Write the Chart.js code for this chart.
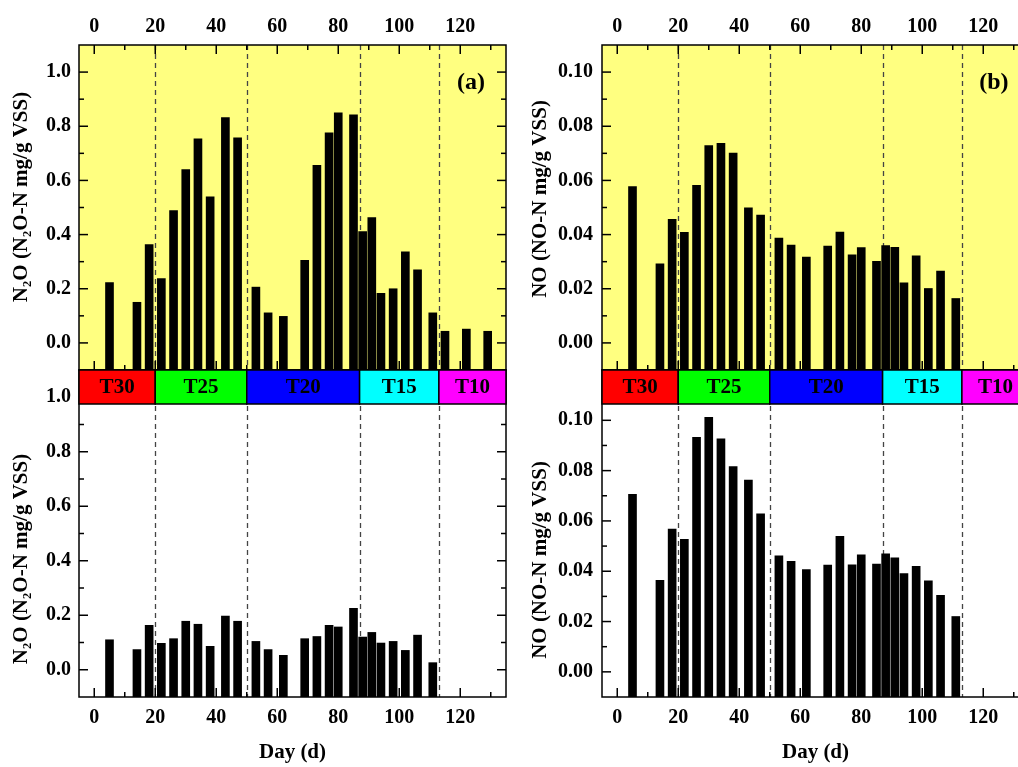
<!DOCTYPE html>
<html>
<head>
<meta charset="utf-8">
<script src="https://cdn.jsdelivr.net/npm/chart.js@4.4.0/dist/chart.umd.min.js"></script>
<style>
  html,body{margin:0;padding:0;background:#fff;}
  body{width:1018px;height:767px;overflow:hidden;position:relative;}
  canvas{position:absolute;}
</style>
</head>
<body>
<canvas id="tl" width="510" height="372" style="left:0;top:0"></canvas>
<canvas id="bl" width="510" height="399" style="left:0;top:368px"></canvas>
<canvas id="tr" width="521" height="372" style="left:510px;top:0"></canvas>
<canvas id="br" width="521" height="399" style="left:510px;top:368px"></canvas>
<script>
// ---------------- data ----------------
const days = [5,14,18,22,26,30,34,38,43,47,53,57,62,69,73,77,80,85,88,91,94,98,102,106,111,115,122,129];
const n2oTop = [0.223,0.150,0.363,0.238,0.489,0.640,0.754,0.539,0.832,0.757,0.206,0.111,0.098,0.305,0.656,0.776,0.850,0.842,0.411,0.463,0.183,0.200,0.336,0.270,0.111,0.043,0.051,0.043];
const n2oBottom = [0.110,0.074,0.163,0.097,0.114,0.178,0.167,0.086,0.197,0.178,0.104,0.074,0.053,0.114,0.122,0.163,0.157,0.225,0.120,0.137,0.098,0.104,0.071,0.127,0.026];
const noTop = [0.0577,0.0292,0.0456,0.0408,0.0582,0.0729,0.0737,0.0701,0.0499,0.0472,0.0387,0.0361,0.0317,0.0358,0.0409,0.0325,0.0352,0.0301,0.0359,0.0353,0.0222,0.0322,0.0201,0.0265,0.0164];
const noBottom = [0.0706,0.0364,0.0568,0.0527,0.0932,0.1012,0.0926,0.0816,0.0762,0.0628,0.0461,0.0439,0.0407,0.0424,0.0539,0.0425,0.0465,0.0428,0.0469,0.0453,0.0391,0.0419,0.0362,0.0304,0.0220];
const phases = ['T30','T25','T20','T15','T10'];
const phaseBounds = [-5,20,50,87,113,135];
const phaseColors = ['#ff0000','#00ff00','#0000ff','#00ffff','#ff00ff'];
const xTicks = [0,20,40,60,80,100,120];
const n2oTicks = [0,0.2,0.4,0.6,0.8,1.0];
const noTicks = [0,0.02,0.04,0.06,0.08,0.10];
const n2oTitle = 'N₂O (N₂O-N mg/g VSS)';
const noTitle = 'NO (NO-N mg/g VSS)';
const xTitle = 'Day (d)';

// ---------------- helpers ----------------
const FONT = "'Liberation Serif','Times New Roman','DejaVu Serif',serif";
Chart.defaults.font.family = FONT;
Chart.defaults.color = '#000';

const panelPlugin = {
  id: 'panel',
  beforeDatasetsDraw(chart, args, o) {
    const {ctx, chartArea: a} = chart;
    const x = chart.scales.x;
    ctx.save();
    if (o.yellow) {
      ctx.fillStyle = '#ffff80';
      ctx.fillRect(a.left, a.top, a.right - a.left, a.bottom - a.top);
    }
    ctx.strokeStyle = '#444';
    ctx.lineWidth = 1.3;
    ctx.setLineDash([5, 4]);
    phaseBounds.slice(1, -1).forEach(d => {
      const px = Math.round(x.getPixelForValue(d)) + 0.5;
      ctx.beginPath(); ctx.moveTo(px, a.top); ctx.lineTo(px, a.bottom); ctx.stroke();
    });
    ctx.restore();
  },
  afterDatasetsDraw(chart, args, o) {
    const {ctx, chartArea: a} = chart;
    const x = chart.scales.x, y = chart.scales.y;
    ctx.save();
    ctx.strokeStyle = '#000';
    ctx.lineWidth = 1.5;
    const seg = (x0, y0, x1, y1) => { ctx.beginPath(); ctx.moveTo(x0, y0); ctx.lineTo(x1, y1); ctx.stroke(); };
    const MAJ = 9, MIN = 5;
    const xStep = xTicks[1] - xTicks[0];
    xTicks.forEach(v => {
      const px = x.getPixelForValue(v);
      seg(px, a.top, px, a.top + MAJ); seg(px, a.bottom, px, a.bottom - MAJ);
      const m = v + xStep / 2;
      if (m < x.max) { const pm = x.getPixelForValue(m); seg(pm, a.top, pm, a.top + MIN); seg(pm, a.bottom, pm, a.bottom - MIN); }
    });
    const yt = o.yTicks, yStep = yt[1] - yt[0];
    yt.forEach((v, i) => {
      const py = y.getPixelForValue(v);
      seg(a.left, py, a.left + MAJ, py); seg(a.right, py, a.right - MAJ, py);
      [v - yStep / 2, v + yStep / 2].forEach((m, k) => {
        if (k === 0 && i > 0) return;
        if (m <= y.min + 1e-9 || m >= y.max - 1e-9) return;
        const pm = y.getPixelForValue(m);
        seg(a.left, pm, a.left + MIN, pm); seg(a.right, pm, a.right - MIN, pm);
      });
    });
    ctx.strokeRect(a.left, a.top, a.right - a.left, a.bottom - a.top);
    if (o.band) {
      const h = 34;
      ctx.font = 'bold 21px ' + FONT;
      ctx.textAlign = 'center';
      ctx.textBaseline = 'middle';
      phases.forEach((p, i) => {
        const x0 = x.getPixelForValue(phaseBounds[i]);
        const x1 = x.getPixelForValue(phaseBounds[i + 1]);
        ctx.fillStyle = phaseColors[i];
        ctx.fillRect(x0, a.top, x1 - x0, h);
        ctx.strokeRect(x0, a.top, x1 - x0, h);
        ctx.fillStyle = '#000';
        ctx.fillText(p, (x0 + x1) / 2, a.top + h / 2 + 1);
      });
    }
    if (o.letter) {
      ctx.font = 'bold 24px ' + FONT;
      ctx.fillStyle = '#000';
      ctx.textAlign = 'center';
      ctx.textBaseline = 'middle';
      ctx.fillText(o.letter, x.getPixelForValue(o.letterAt[0]), y.getPixelForValue(o.letterAt[1]));
    }
    ctx.translate(a.left - o.titleDX, o.titleCY);
    ctx.rotate(-Math.PI / 2);
    ctx.font = 'bold 21px ' + FONT;
    ctx.fillStyle = '#000';
    ctx.textAlign = 'center';
    ctx.textBaseline = 'middle';
    ctx.fillText(o.yTitle, 0, 0);
    ctx.restore();
  }
};

function makeChart(id, cfg) {
  const top = cfg.top;
  return new Chart(document.getElementById(id), {
    type: 'bar',
    data: {
      datasets: [{
        data: days.slice(0, cfg.values.length).map((d, i) => ({x: d, y: cfg.values[i]})),
        backgroundColor: '#000',
        borderWidth: 0,
        barThickness: 8,
        base: cfg.yMin
      }]
    },
    options: {
      responsive: false,
      animation: false,
      events: [],
      layout: {padding: top ? {left: 0, right: cfg.padR, top: 0, bottom: 2} : {left: 0, right: cfg.padR, top: 2, bottom: 0}},
      plugins: {
        legend: {display: false},
        tooltip: {enabled: false},
        panel: {
          yellow: top, band: !top, yTicks: cfg.yTicks,
          letter: cfg.letter, letterAt: cfg.letterAt,
          yTitle: cfg.yTitle, titleDX: cfg.titleDX, titleCY: cfg.titleCY
        }
      },
      scales: {
        x: {
          type: 'linear', position: top ? 'top' : 'bottom',
          min: -5, max: 135, offset: false,
          grid: {display: false, drawTicks: false, tickLength: 0},
          border: {display: false},
          afterBuildTicks: s => { s.ticks = xTicks.map(v => ({value: v})); },
          afterFit: s => { s.height = top ? 45 : 70; s.paddingLeft = 0; s.paddingRight = 0; s.paddingTop = 0; s.paddingBottom = 0; },
          ticks: {font: {size: 20, weight: 'bold'}, color: '#000', padding: top ? 6 : 9, maxRotation: 0, autoSkip: false},
          title: {display: !top, text: xTitle, font: {size: 21, weight: 'bold'}, color: '#000', padding: {top: 0, bottom: 2}}
        },
        y: {
          type: 'linear', min: cfg.yMin, max: cfg.yMax,
          grid: {display: false, drawTicks: false, tickLength: 0},
          border: {display: false},
          afterBuildTicks: s => { s.ticks = cfg.yTicks.map(v => ({value: v})); },
          afterFit: s => { s.width = cfg.yW; s.paddingLeft = 0; s.paddingRight = 0; s.paddingTop = 0; s.paddingBottom = 0; },
          ticks: {font: {size: 20, weight: 'bold'}, color: '#000', padding: cfg.tickPad,
                  callback: v => v.toFixed(cfg.dec)}
        }
      }
    },
    plugins: [panelPlugin]
  });
}

makeChart('tl', {top: true, values: n2oTop, yMin: -0.1, yMax: 1.1, yTicks: n2oTicks, dec: 1, yW: 79, padR: 4, tickPad: 8,
  letter: '(a)', letterAt: [123.5, 0.96], yTitle: n2oTitle, titleDX: 57, titleCY: 197});
makeChart('bl', {top: false, values: n2oBottom, yMin: -0.1, yMax: 1.1, yTicks: n2oTicks, dec: 1, yW: 79, padR: 4, tickPad: 8,
  yTitle: n2oTitle, titleDX: 57, titleCY: 559 - 368});
makeChart('tr', {top: true, values: noTop, yMin: -0.01, yMax: 0.11, yTicks: noTicks, dec: 2, yW: 92, padR: 2, tickPad: 9,
  letter: '(b)', letterAt: [123.5, 0.096], yTitle: noTitle, titleDX: 61, titleCY: 199});
makeChart('br', {top: false, values: noBottom, yMin: -0.01, yMax: 0.12, yTicks: noTicks, dec: 2, yW: 92, padR: 2, tickPad: 9,
  yTitle: noTitle, titleDX: 61, titleCY: 560 - 368});
</script>
</body>
</html>
